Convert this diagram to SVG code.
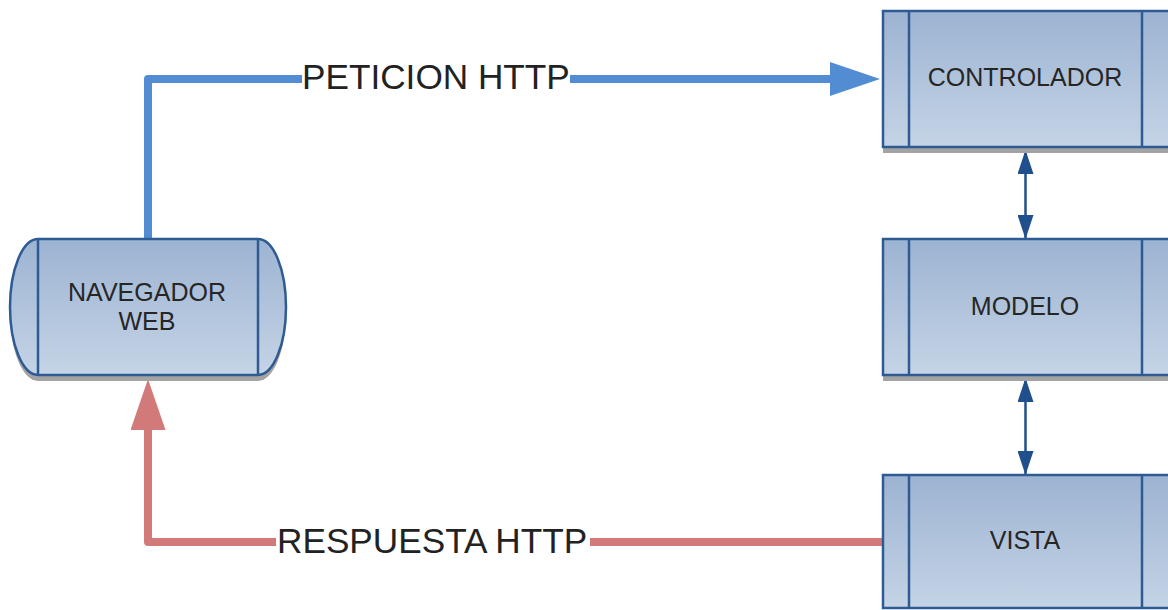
<svg xmlns="http://www.w3.org/2000/svg" width="1168" height="610" viewBox="0 0 1168 610">
<defs>
<linearGradient id="g" x1="0" y1="0" x2="0" y2="1">
<stop offset="0" stop-color="#9cb3d2"/>
<stop offset="1" stop-color="#c5d4e6"/>
</linearGradient>
<marker id="blueHead" markerUnits="userSpaceOnUse" markerWidth="50" markerHeight="34" refX="1" refY="17" orient="auto">
<path d="M0,0 L50,17 L0,34 Z" fill="#528dd4"/>
</marker>
<marker id="redHead" markerUnits="userSpaceOnUse" markerWidth="51" markerHeight="35" refX="1" refY="17.5" orient="auto">
<path d="M0,0 L51,17.5 L0,35 Z" fill="#d27a7a"/>
</marker>
<marker id="dHead" markerUnits="userSpaceOnUse" markerWidth="24" markerHeight="16" refX="24" refY="8" orient="auto-start-reverse">
<path d="M0,0 L24,8 L0,16 Z" fill="#1f4f8c"/>
</marker>
</defs>
<style>
.box{fill:url(#g);stroke:#2f5b93;stroke-width:2.5}
.shadow{fill:#a3a3a3}
.inner{stroke:#2f5b93;stroke-width:2.5}
.lbl{font-family:"Liberation Sans",Arial,sans-serif;font-size:25px;fill:#262626;text-anchor:middle}
.big{font-family:"Liberation Sans",Arial,sans-serif;font-size:35.2px;fill:#222}
.blue{fill:none;stroke:#528dd4;stroke-width:8;stroke-linejoin:round}
.red{fill:none;stroke:#d27a7a;stroke-width:8;stroke-linejoin:round}
.dbl{stroke:#1f4f8c;stroke-width:2.5;fill:none}
</style>
<rect width="1168" height="610" fill="#ffffff"/>

<g id="connectors">
<path class="blue" d="M148,241 V79 H302"/>
<path class="blue" d="M570,79 H831" marker-end="url(#blueHead)"/>
<path class="red" d="M883,542 H590"/>
<path class="red" d="M276,542 H148 V429" marker-end="url(#redHead)"/>
<line class="dbl" x1="1025.5" y1="150" x2="1025.5" y2="239" marker-start="url(#dHead)" marker-end="url(#dHead)"/>
<line class="dbl" x1="1025.5" y1="378" x2="1025.5" y2="475" marker-start="url(#dHead)" marker-end="url(#dHead)"/>
<text class="big" x="302" y="89">PETICION HTTP</text>
<text class="big" x="277" y="553">RESPUESTA HTTP</text>
</g>

<g id="navegador">
<path class="shadow" d="M38,245 L258,245 A28,68 0 0 1 258,381 L38,381 A28,68 0 0 1 38,245 Z"/>
<path class="box" d="M38,239 L258,239 A28,68 0 0 1 258,375 L38,375 A28,68 0 0 1 38,239 Z"/>
<line class="inner" x1="38" y1="239" x2="38" y2="375"/>
<line class="inner" x1="258" y1="239" x2="258" y2="375"/>
<text class="lbl" x="147" y="301">NAVEGADOR</text>
<text class="lbl" x="147" y="330">WEB</text>
</g>

<g id="controlador">
<rect class="shadow" x="883" y="17" width="300" height="136"/>
<rect class="box" x="883" y="11" width="300" height="136"/>
<line class="inner" x1="909" y1="11" x2="909" y2="147"/>
<line class="inner" x1="1142" y1="11" x2="1142" y2="147"/>
<text class="lbl" x="1025" y="86">CONTROLADOR</text>
</g>

<g id="modelo">
<rect class="shadow" x="883" y="245" width="300" height="136"/>
<rect class="box" x="883" y="239" width="300" height="136"/>
<line class="inner" x1="909" y1="239" x2="909" y2="375"/>
<line class="inner" x1="1142" y1="239" x2="1142" y2="375"/>
<text class="lbl" x="1025" y="315">MODELO</text>
</g>

<g id="vista">
<rect class="box" x="883" y="475" width="300" height="133"/>
<line class="inner" x1="909" y1="475" x2="909" y2="608"/>
<line class="inner" x1="1142" y1="475" x2="1142" y2="608"/>
<text class="lbl" x="1025" y="549">VISTA</text>
</g>
</svg>
